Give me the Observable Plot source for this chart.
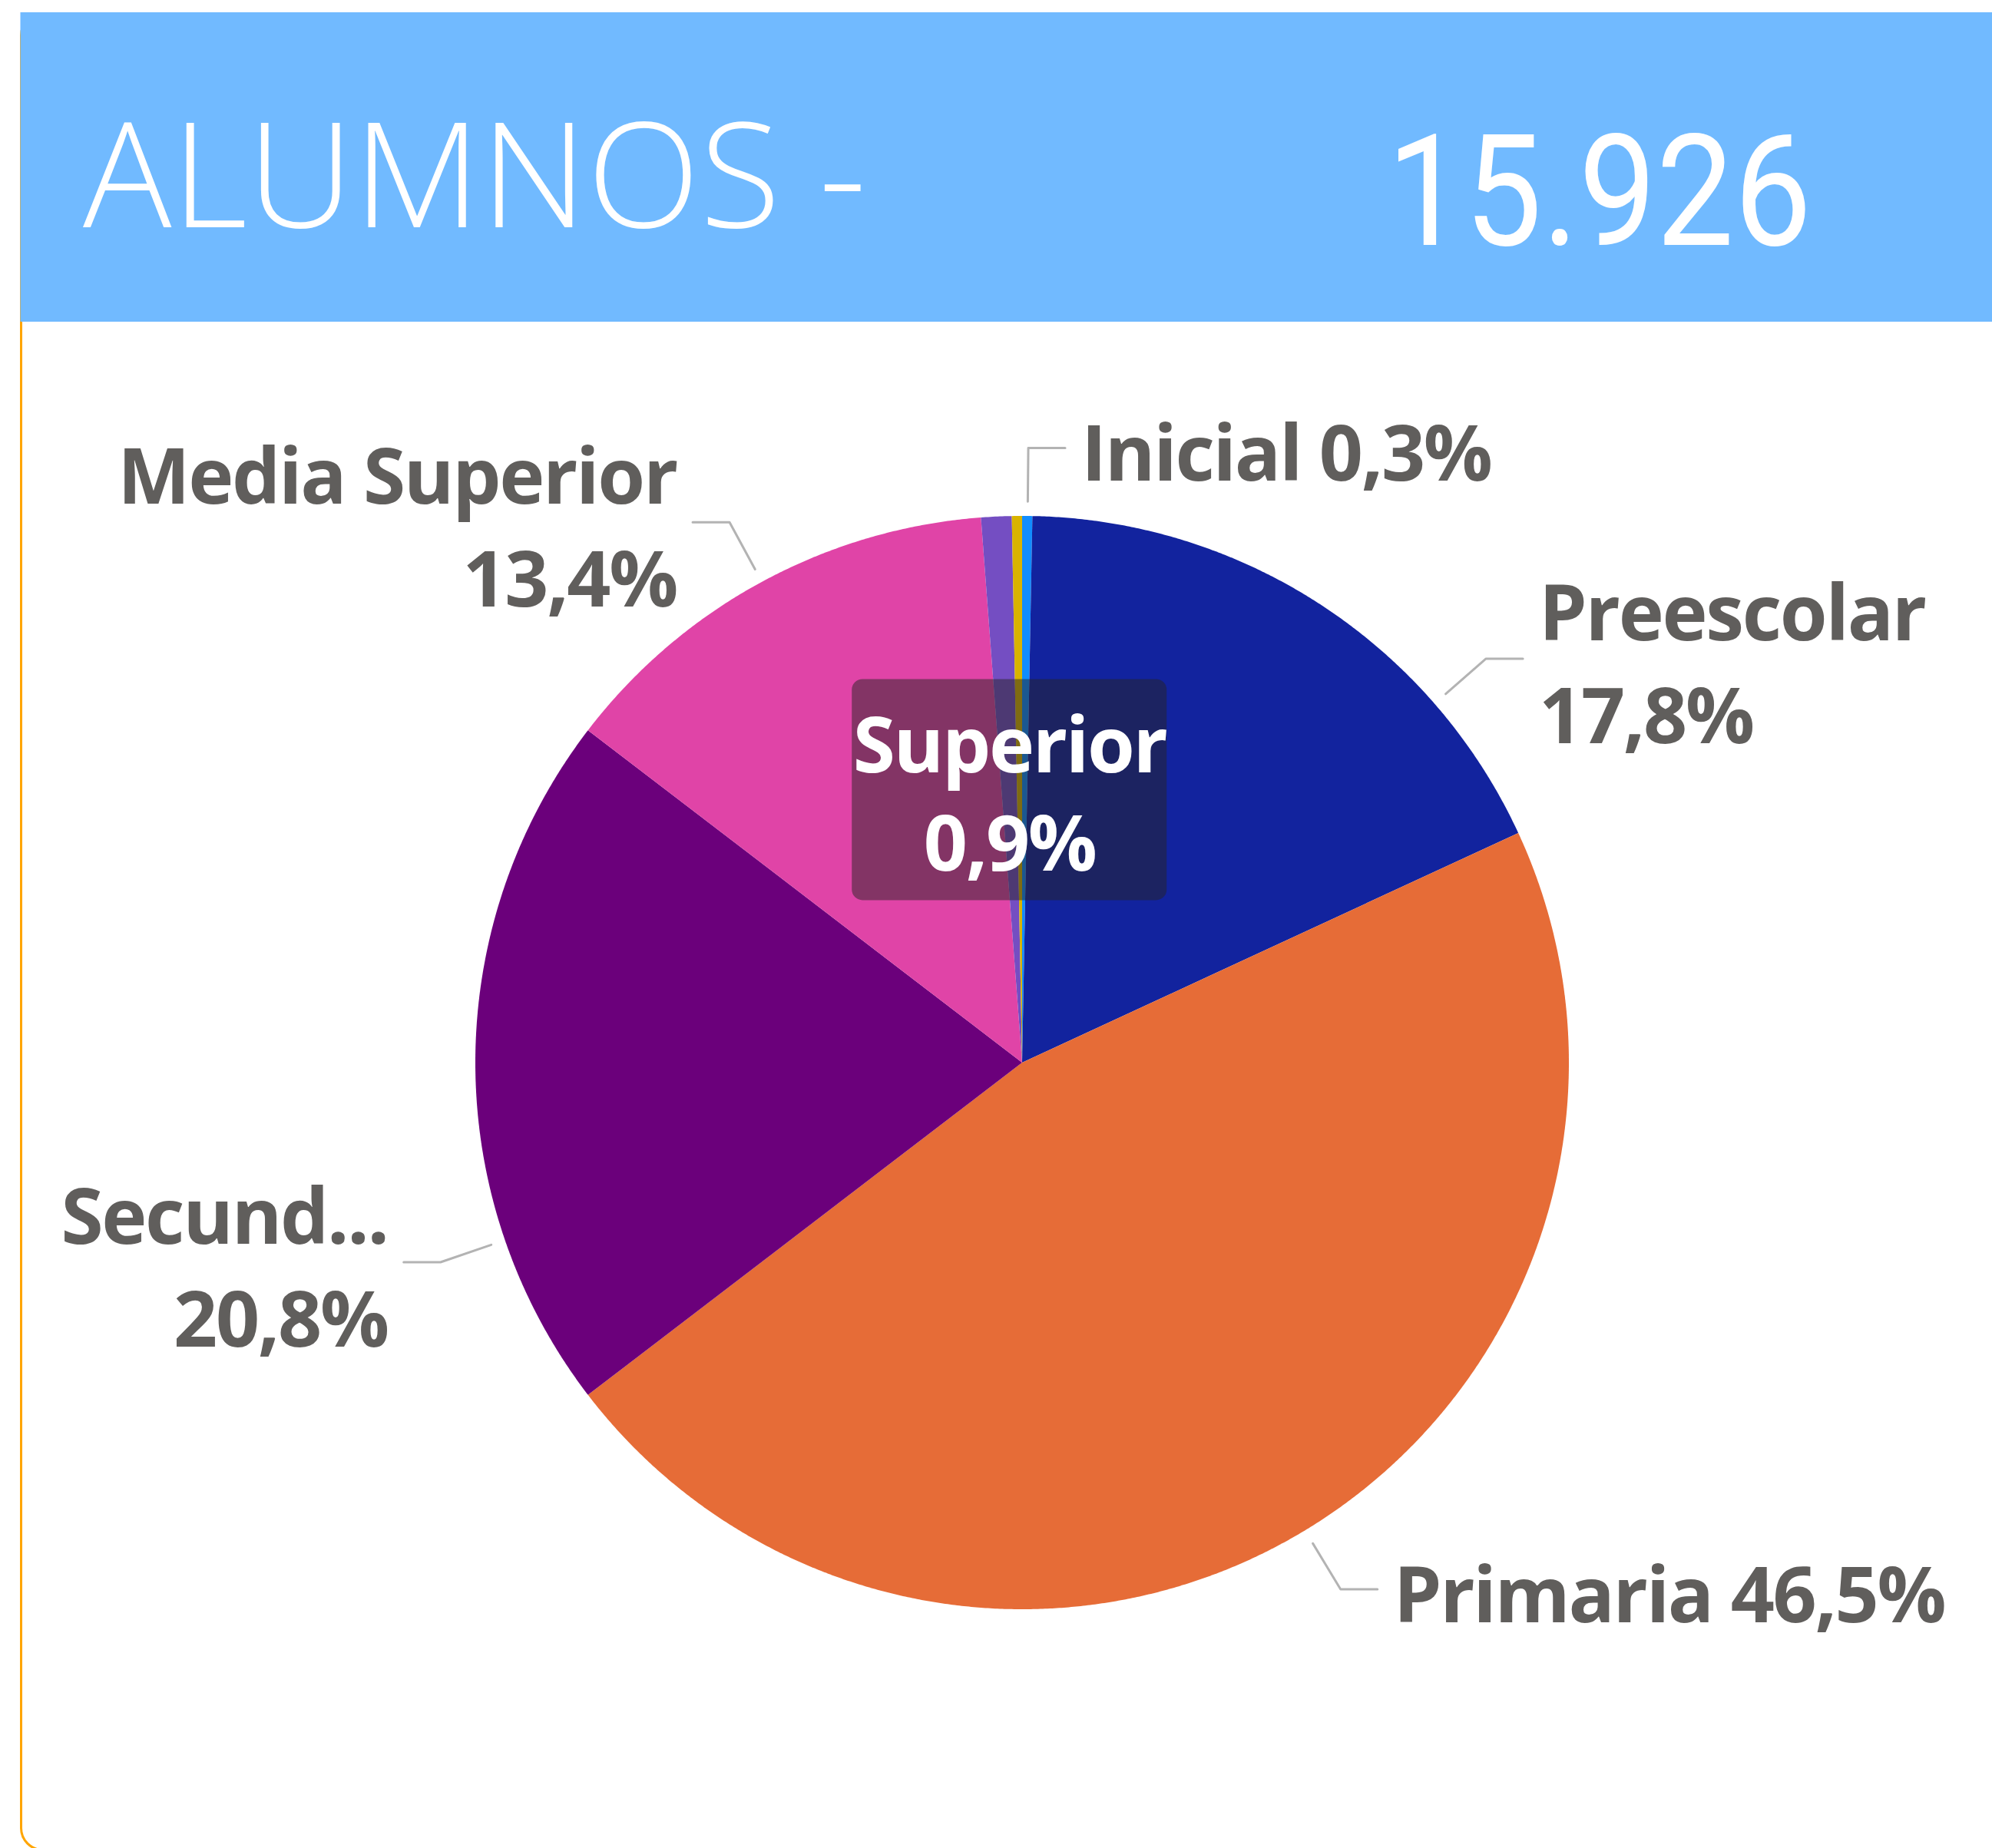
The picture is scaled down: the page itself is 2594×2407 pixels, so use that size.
<!DOCTYPE html>
<html><head><meta charset="utf-8">
<script src="https://cdn.jsdelivr.net/npm/d3@7"></script>
<script src="https://cdn.jsdelivr.net/npm/@observablehq/plot@0.6"></script>
<style>
html,body{margin:0;padding:0;background:#fff;}
body{width:2594px;height:2407px;position:relative;overflow:hidden;}
#card{position:absolute;left:26px;top:16px;width:2640px;height:2395px;border:3px solid #FFA500;border-radius:30px;box-sizing:border-box;}
#header{position:absolute;left:0;top:0;}
#chart{position:absolute;left:0;top:419px;}
</style></head>
<body>
<div id="card"></div>
<svg id="header" width="2594" height="420"></svg>
<div id="chart"></div>
<script>
// ---- data ----
const categories = ["Inicial", "Preescolar", "Primaria", "Secundaria", "Media Superior", "Superior", "Otros"];
const shares = [0.3, 17.8, 46.5, 20.8, 13.4, 0.9, 0.3];   // % of students
const colors = ["#118DFF", "#12239E", "#E66C37", "#6B007B", "#E044A7", "#744EC2", "#D9B300"];
const totalAlumnos = "15.926";
const titleText = "ALUMNOS -";
const labeled = ["Inicial", "Preescolar", "Primaria", "Secundaria", "Media Superior"];
const tooltipCategory = "Superior";

// ---- layout (not data) ----
const W = 2594, H = 1988, R = 712, CX = 1331, CY = 965;
const labelLayout = {
  "Inicial": {lines: 1},
  "Preescolar": {lines: 2, angle: 48.9},
  "Primaria": {lines: 1},
  "Secundaria": {lines: 2, angle: 251.1, truncate: 6},
  "Media Superior": {lines: 2}
};

// ---- header ----
const hdr = d3.select("#header");
hdr.append("rect").attr("x", 26.5).attr("y", 16).attr("width", 2600).attr("height", 403).attr("fill", "#71BAFF");
hdr.append("text").text(titleText)
  .attr("x", 108).attr("y", 296)
  .attr("textLength", 1020).attr("lengthAdjust", "spacingAndGlyphs")
  .attr("font-family", "'Segoe UI Light','Open Sans',sans-serif").attr("font-weight", 300)
  .attr("font-size", 190).attr("fill", "#ffffff");
hdr.append("text").text(totalAlumnos)
  .attr("x", 1806).attr("y", 319)
  .attr("textLength", 553).attr("lengthAdjust", "spacingAndGlyphs")
  .attr("font-family", "Roboto,'Open Sans',sans-serif").attr("font-weight", 400)
  .attr("font-size", 203).attr("fill", "#ffffff");

// ---- pie geometry via d3.pie ----
const table = categories.map((c, i) => ({cat: c, share: shares[i]}));
const pie = d3.pie().sort(null).value(d => d.share)(table);
const byCat = new Map(pie.map(s => [s.data.cat, s]));
const fmt = v => d3.format(".1f")(v).replace(".", ",") + "%";

const arcPts = pie.flatMap(s => {
  const n = Math.max(2, Math.ceil((s.endAngle - s.startAngle) / (Math.PI / 720)) + 1);
  return d3.range(n).map(i => {
    const a = s.startAngle + (s.endAngle - s.startAngle) * i / (n - 1);
    return {cat: s.data.cat, x1: Math.sin(a), y1: Math.cos(a)};
  });
});

// leader lines + labels
const r0 = 1.027, r1 = 1.125, hLen = 48 / R;
const leaderPts = [], labelPts = [];
for (const cat of labeled) {
  const s = byCat.get(cat), L = labelLayout[cat];
  const ang = L.angle != null ? L.angle * Math.PI / 180 : (s.startAngle + s.endAngle) / 2;
  const side = Math.sin(ang) >= 0 ? 1 : -1;
  const p0 = {x: r0 * Math.sin(ang), y: r0 * Math.cos(ang)};
  const p1 = {x: r1 * Math.sin(ang), y: r1 * Math.cos(ang)};
  const p2 = {x: p1.x + side * hLen, y: p1.y};
  for (const p of [p0, p1, p2]) leaderPts.push({cat, ...p});
  const name = L.truncate ? cat.slice(0, L.truncate) + "..." : cat;
  const pct = fmt(s.data.share);
  labelPts.push({cat, x: p2.x, y: p2.y, side, text: L.lines === 2 ? name + "\n" + pct : name + " " + pct});
}

// tooltip at Superior slice
const ts = byCat.get(tooltipCategory);
const tAng = (ts.startAngle + ts.endAngle) / 2;
const tip = {x: 0.5 * Math.sin(tAng), y: 0.5 * Math.cos(tAng), text: tooltipCategory + "\n" + fmt(ts.data.share)};
const hw = 205 / R, hh = 144 / R;

const labelFont = "'Segoe UI','Open Sans','Noto Sans',sans-serif";

const chart = Plot.plot({
  width: W, height: H,
  marginLeft: CX - R, marginRight: W - CX - R,
  marginTop: CY - R, marginBottom: H - CY - R,
  x: {domain: [-1, 1], axis: null},
  y: {domain: [-1, 1], axis: null},
  color: {domain: categories, range: colors},
  style: {background: "transparent", overflow: "visible", letterSpacing: "-2.3px"},
  marks: [
    Plot.area(arcPts, {x1: "x1", y1: "y1", x2: () => 0, y2: () => 0, z: "cat", fill: "cat", curve: "linear"}),
    Plot.line(leaderPts, {x: "x", y: "y", z: "cat", stroke: "#B3B3B3", strokeWidth: 3, strokeLinecap: "round", curve: "linear"}),
    Plot.text(labelPts.filter(d => d.side > 0), {x: "x", y: "y", text: "text", dx: 21, textAnchor: "start",
      fontSize: 100, fontWeight: 700, fill: "#605E5C", lineHeight: 1.34, fontFamily: labelFont}),
    Plot.text(labelPts.filter(d => d.side < 0), {x: "x", y: "y", text: "text", dx: -21, textAnchor: "end",
      fontSize: 100, fontWeight: 700, fill: "#605E5C", lineHeight: 1.34, fontFamily: labelFont}),
    Plot.rect([tip], {x1: d => d.x - hw, x2: d => d.x + hw, y1: d => d.y - hh, y2: d => d.y + hh,
      fill: "#252423", fillOpacity: 0.5, rx: 14}),
    Plot.text([tip], {x: "x", y: "y", text: "text", fill: "white", fontSize: 100, fontWeight: 700,
      lineHeight: 1.28, fontFamily: labelFont})
  ]
});
document.getElementById("chart").appendChild(chart);
</script>
</body></html>
